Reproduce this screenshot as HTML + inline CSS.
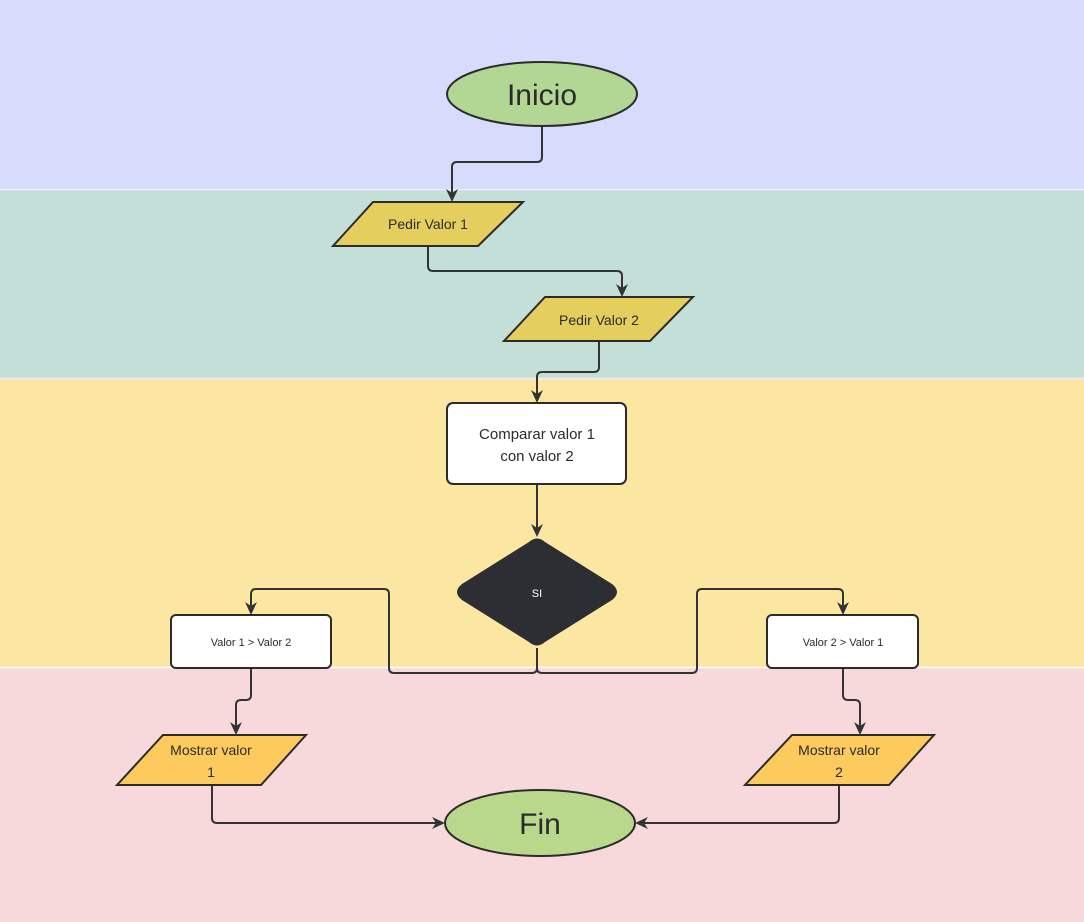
<!DOCTYPE html>
<html><head><meta charset="utf-8"><style>
html,body{margin:0;padding:0;width:1084px;height:922px;overflow:hidden}
svg{display:block}
text{font-family:"Liberation Sans",sans-serif;fill:#2b2b2b}
</style></head><body>
<svg width="1084" height="922" viewBox="0 0 1084 922" xmlns="http://www.w3.org/2000/svg">
<defs>
<path id="ad" d="M-6,-13 L0,0 L6,-13 L0,-9 Z" fill="#333"/>
</defs>
<rect x="0" y="0" width="1084" height="189" fill="#d7dcfc"/>
<rect x="0" y="189" width="1084" height="190" fill="#c3dfd8"/>
<rect x="0" y="379" width="1084" height="289" fill="#fbe7a2"/>
<rect x="0" y="668" width="1084" height="254" fill="#f8d9db"/>
<line x1="0" y1="189.5" x2="1084" y2="189.5" stroke="#eef" stroke-width="1.5"/>
<line x1="0" y1="378.5" x2="1084" y2="378.5" stroke="#eef" stroke-width="1.5"/>
<line x1="0" y1="667.5" x2="1084" y2="667.5" stroke="#fff" stroke-width="1.5"/>

<g fill="none" stroke="#333" stroke-width="2" stroke-linejoin="round">
<path d="M542,127 V157 Q542,162 537,162 H457 Q452,162 452,167 V195"/>
<path d="M428,247 V266 Q428,271 433,271 H617 Q622,271 622,276 V290"/>
<path d="M599,342 V367 Q599,372 594,372 H542 Q537,372 537,377 V396"/>
<path d="M537,485 V530"/>
<path d="M537,648 V668 Q537,673 532,673 H394 Q389,673 389,668 V594 Q389,589 384,589 H256 Q251,589 251,594 V608"/>
<path d="M537,648 V668 Q537,673 542,673 H692 Q697,673 697,668 V594 Q697,589 702,589 H838 Q843,589 843,594 V608"/>
<path d="M251,669 V695 Q251,700 246,700 H241 Q236,700 236,705 V728"/>
<path d="M843,669 V695 Q843,700 848,700 H855 Q860,700 860,705 V728"/>
<path d="M212,786 V818 Q212,823 217,823 H438"/>
<path d="M839,786 V818 Q839,823 834,823 H642"/>
</g>
<use href="#ad" transform="translate(452,202)"/>
<use href="#ad" transform="translate(622,297)"/>
<use href="#ad" transform="translate(537,403)"/>
<use href="#ad" transform="translate(537,537)"/>
<use href="#ad" transform="translate(251,615)"/>
<use href="#ad" transform="translate(843,615)"/>
<use href="#ad" transform="translate(236,735)"/>
<use href="#ad" transform="translate(860,735)"/>
<use href="#ad" transform="translate(445,823) rotate(-90)"/>
<use href="#ad" transform="translate(635,823) rotate(90)"/>

<g stroke="#2b2b2b" stroke-width="2">
<ellipse cx="542" cy="94" rx="95" ry="32" fill="#b2d693"/>
<polygon points="373,202 523,202 478,246 333,246" fill="#e4cf5e"/>
<polygon points="545,297 693,297 650,341 504,341" fill="#e4cf5e"/>
<rect x="447" y="403" width="179" height="81" rx="6" fill="#fff"/>
<path d="M529,542 Q537,535 545,542 L612,584 Q622,592 612,600 L545,642 Q537,649 529,642 L462,600 Q452,592 462,584 Z" fill="#2d2e33" stroke="none"/>
<rect x="171" y="615" width="160" height="53" rx="5" fill="#fff"/>
<rect x="767" y="615" width="151" height="53" rx="5" fill="#fff"/>
<polygon points="163,735 306,735 261,785 117,785" fill="#fdcb5d"/>
<polygon points="792,735 934,735 889,785 745,785" fill="#fdcb5d"/>
<ellipse cx="540" cy="823" rx="95" ry="33" fill="#b9d88b"/>
</g>

<g text-anchor="middle">
<text x="542" y="105" font-size="30">Inicio</text>
<text x="428" y="229" font-size="14">Pedir Valor 1</text>
<text x="599" y="325" font-size="14">Pedir Valor 2</text>
<text x="537" y="439" font-size="15">Comparar valor 1</text>
<text x="537" y="461" font-size="15">con valor 2</text>
<text x="537" y="597" font-size="11" style="fill:#fff">SI</text>
<text x="251" y="646" font-size="11">Valor 1 &gt; Valor 2</text>
<text x="843" y="646" font-size="11">Valor 2 &gt; Valor 1</text>
<text x="211" y="755" font-size="14">Mostrar valor</text>
<text x="211" y="777" font-size="14">1</text>
<text x="839" y="755" font-size="14">Mostrar valor</text>
<text x="839" y="777" font-size="14">2</text>
<text x="540" y="834" font-size="30">Fin</text>
</g>
</svg>
</body></html>
